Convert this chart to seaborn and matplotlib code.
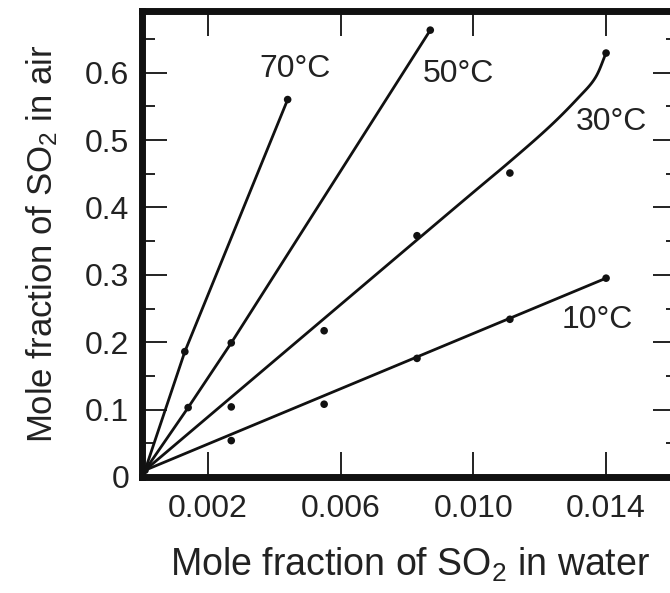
import matplotlib
matplotlib.use("Agg")
import matplotlib.pyplot as plt
import seaborn as sns
import pandas as pd
import numpy as np
from matplotlib.ticker import MultipleLocator, FixedLocator

# ---- data ----
temps = ["10°C", "30°C", "50°C", "70°C"]

x_10 = [0.0027, 0.0055, 0.0083, 0.0111, 0.0140]
y_10 = [0.054, 0.108, 0.176, 0.234, 0.295]
x_30 = [0.0027, 0.0055, 0.0083, 0.0111, 0.0140]
y_30 = [0.104, 0.217, 0.358, 0.451, 0.629]
x_50 = [0.0014, 0.0027, 0.0087]
y_50 = [0.103, 0.199, 0.663]
x_70 = [0.0013, 0.0044]
y_70 = [0.186, 0.560]
x_origin = [0.0001]
y_origin = [0.010]

# drawn curves
curve_10_x = [0.0001, 0.0140]
curve_10_y = [0.010, 0.295]
curve_30_x = [0.0001, 0.0090, 0.0111, 0.0123, 0.01315, 0.01367, 0.0140]
curve_30_y = [0.010, 0.381, 0.468, 0.520, 0.562, 0.592, 0.629]
curve_50_x = [0.0001, 0.0014, 0.0027, 0.0087]
curve_50_y = [0.010, 0.103, 0.199, 0.663]
curve_70_x = [0.0001, 0.0013, 0.0044]
curve_70_y = [0.010, 0.186, 0.560]

label_x = [0.01373, 0.01415, 0.00954, 0.00462]
label_y = [0.233, 0.527, 0.598, 0.605]

x_ticks = [0.002, 0.006, 0.010, 0.014]
x_ticklabels = ["0.002", "0.006", "0.010", "0.014"]
y_ticks = [0, 0.1, 0.2, 0.3, 0.4, 0.5, 0.6]
y_ticklabels = ["0", "0.1", "0.2", "0.3", "0.4", "0.5", "0.6"]


def smooth_path(xs, ys, n=24):
    """Catmull-Rom rendering of a hand-drawn curve through its anchor points."""
    p = np.column_stack([xs, ys]).astype(float)
    out = [p[0]]
    for i in range(len(p) - 1):
        p0 = p[i - 1] if i > 0 else 2 * p[0] - p[1]
        p1, p2 = p[i], p[i + 1]
        p3 = p[i + 2] if i + 2 < len(p) else 2 * p[-1] - p[-2]
        if i == 0:
            out.append(p2)  # straight first segment
            continue
        t = np.linspace(0, 1, n)[1:, None]
        seg = 0.5 * ((2 * p1) + (-p0 + p2) * t + (2 * p0 - 5 * p1 + 4 * p2 - p3) * t ** 2
                     + (-p0 + 3 * p1 - 3 * p2 + p3) * t ** 3)
        out.extend(seg)
    out = np.array(out)
    return out[:, 0], out[:, 1]


sx30, sy30 = smooth_path(curve_30_x, curve_30_y)

# ---- build tables ----
pts = pd.concat([
    pd.DataFrame({"x": x_10, "y": y_10, "T": temps[0]}),
    pd.DataFrame({"x": x_30, "y": y_30, "T": temps[1]}),
    pd.DataFrame({"x": x_50, "y": y_50, "T": temps[2]}),
    pd.DataFrame({"x": x_70, "y": y_70, "T": temps[3]}),
    pd.DataFrame({"x": x_origin, "y": y_origin, "T": "origin"}),
], ignore_index=True)

curves = pd.concat([
    pd.DataFrame({"x": curve_10_x, "y": curve_10_y, "T": temps[0]}),
    pd.DataFrame({"x": sx30, "y": sy30, "T": temps[1]}),
    pd.DataFrame({"x": curve_50_x, "y": curve_50_y, "T": temps[2]}),
    pd.DataFrame({"x": curve_70_x, "y": curve_70_y, "T": temps[3]}),
], ignore_index=True)

sns.set_style("ticks")
plt.rcParams["font.family"] = ["Liberation Sans", "DejaVu Sans"]
plt.rcParams["mathtext.fontset"] = "custom"
plt.rcParams["mathtext.rm"] = "Liberation Sans"
plt.rcParams["mathtext.it"] = "Liberation Sans:italic"
plt.rcParams["mathtext.bf"] = "Liberation Sans:bold"

fig = plt.figure(figsize=(6.70, 5.93), dpi=100)
ax = fig.add_axes([141.7 / 670, (593 - 477) / 593, (678 - 141.7) / 670, (477 - 11) / 593])

for t in temps:
    sub = curves[curves["T"] == t]
    sns.lineplot(data=sub, x="x", y="y", ax=ax, color="#111111", lw=2.0,
                 sort=False, estimator=None, legend=False)

sns.scatterplot(data=pts, x="x", y="y", ax=ax, color="#111111", s=30,
                edgecolor="none", legend=False, zorder=5)

for t, lx, ly in zip(temps, label_x, label_y):
    ax.text(lx, ly, t, ha="center", va="center", fontsize=23, color="#222222")

ax.set_xlim(0, (678 - 141.7) / 33170)
ax.set_ylim(0, (477 - 11) / 674)

ax.xaxis.set_major_locator(FixedLocator(x_ticks))
ax.set_xticklabels(x_ticklabels)
ax.yaxis.set_major_locator(FixedLocator(y_ticks))
ax.set_yticklabels(y_ticklabels)
ax.yaxis.set_minor_locator(MultipleLocator(0.05))

ax.tick_params(axis="both", which="major", direction="in", length=18, width=1.4,
               labelsize=23, top=True, right=True, color="#222222", labelcolor="#222222")
ax.tick_params(axis="y", which="minor", direction="in", length=9, width=1.4,
               left=True, right=True, color="#222222")
ax.tick_params(axis="x", which="minor", bottom=False, top=False)
ax.tick_params(axis="x", which="major", pad=12)
ax.tick_params(axis="y", which="major", pad=9)

for s in ax.spines.values():
    s.set_linewidth(5)
    s.set_color("#111111")
    s.set_visible(True)

ax.set_xlabel("Mole fraction of SO$_2$ in water", fontsize=27, color="#222222", labelpad=16)
ax.set_ylabel("Mole fraction of SO$_2$ in air", fontsize=25, color="#222222", labelpad=18)

fig.savefig("out.png", dpi=100)
